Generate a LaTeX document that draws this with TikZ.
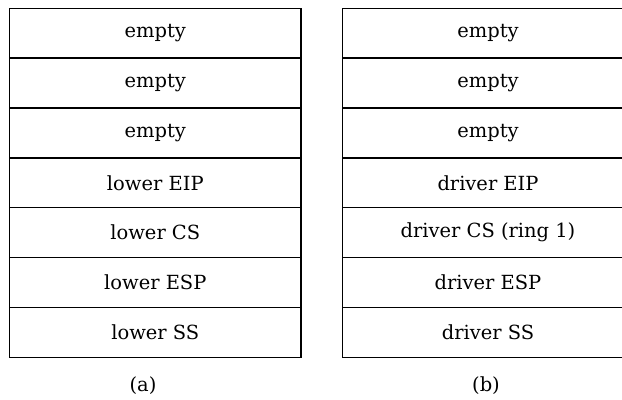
\documentclass[tikz,border=0pt]{standalone}
\usepackage{fontspec}
\setmainfont{DejaVu Serif}
\begin{document}
\begin{tikzpicture}[x=0.75pt,y=-0.75pt,
  cell/.style={draw=black, line width=1pt, rectangle, minimum width=218.6pt,
    minimum height=37.4pt, inner sep=0pt, font=\fontsize{14.6}{16}\selectfont},
  caption/.style={font=\fontsize{14.6}{16}\selectfont, inner sep=0pt}]
  \clip (0,0) rectangle (622,400);
  % left stack: the lower-privilege stack frame
  \foreach \name/\txt [count=\i] in {a1/empty, a2/empty, a3/empty, a4/lower EIP,
      a5/lower CS, a6/lower ESP, a7/lower SS} {
    \node[cell] (\name) at (155.3, {8.3 + 49.86*(\i-0.5)}) {\txt};
  }
  % right stack: the driver stack frame
  \foreach \name/\txt [count=\i] in {b1/empty, b2/empty, b3/empty, b4/driver EIP,
      b5/driver CS (ring 1), b6/driver ESP, b7/driver SS} {
    \node[cell] (\name) at (488, {8.3 + 49.86*(\i-0.5)}) {\txt};
  }
  \node[caption] (capa) at (143, 386) {(a)};
  \node[caption] (capb) at (486, 386) {(b)};
\end{tikzpicture}
\end{document}
